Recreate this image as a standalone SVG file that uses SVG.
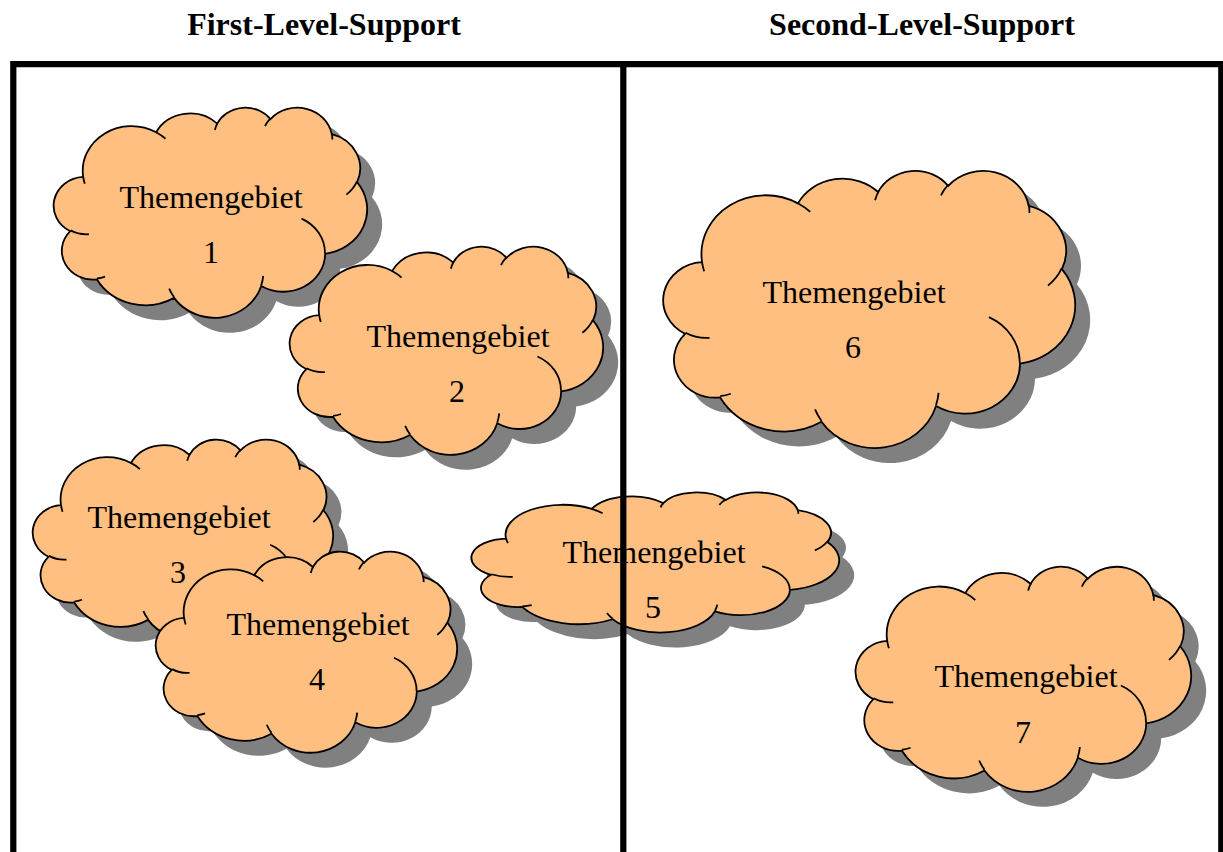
<svg xmlns="http://www.w3.org/2000/svg" xmlns:xlink="http://www.w3.org/1999/xlink" width="1223" height="852" viewBox="0 0 1223 852">
<style>
.shadow{fill:#808080;stroke:none}
.body{fill:#FFBF80;stroke:#000;stroke-width:1.8}
.inner{fill:none;stroke:#000;stroke-width:1.8}
.lbl{font-family:"Liberation Serif","Times New Roman",serif;font-size:32px;fill:#000;text-anchor:middle}
.title{font-family:"Liberation Serif","Times New Roman",serif;font-size:32px;font-weight:bold;fill:#000;text-anchor:middle}
.frame{fill:none;stroke:#000;stroke-width:6.2;stroke-linejoin:miter}
</style>
<defs>
<path id="cloud" vector-effect="non-scaling-stroke" d="M9.03,33.26 A15.63,21.27 0 0 1 32.42,12.04 A12.35,16.82 0 0 1 51.99,7.95 A10.10,13.76 0 0 1 69.07,5.74 A11.24,15.27 0 0 1 88.71,12.91 A12.35,16.84 0 0 1 96.81,35.79 A15.68,21.34 0 0 1 86.59,69.91 A13.39,18.21 0 0 1 66.11,85.22 A15.63,21.33 0 0 1 38.16,90.90 A17.87,24.41 0 0 1 13.45,82.11 A10.09,13.70 0 0 1 4.90,59.15 A10.06,13.76 0 0 1 9.03,33.26 Z"/>
<path id="cloudIn" vector-effect="non-scaling-stroke" d="M10.86,60.59 A10.06,13.76 0 0 1 5.00,58.75 M16.04,80.78 A10.09,13.70 0 0 1 13.47,81.67 M38.14,90.49 A15.63,21.33 0 0 1 36.59,86.45 M66.73,80.44 A15.63,21.33 0 0 1 66.11,84.86 M79.00,53.13 A13.39,18.21 0 0 1 86.53,69.65 M96.75,35.54 A12.35,16.84 0 0 1 93.40,41.74 M88.71,12.56 A11.24,15.27 0 0 1 88.89,15.49 M67.31,9.15 A11.24,15.27 0 0 1 69.03,5.42 M51.25,10.93 A10.10,13.76 0 0 1 52.08,7.71 M32.41,12.02 A15.63,21.27 0 0 1 35.42,15.14 M9.55,36.55 A15.63,21.27 0 0 1 9.03,33.27"/>
</defs>
<text class="title" x="324" y="35">First-Level-Support</text>
<text class="title" x="922" y="35">Second-Level-Support</text>
<g id="node1">
<use href="#cloud" xlink:href="#cloud" class="shadow" transform="translate(70,122) scale(3.12,2.10)"/>
<g transform="translate(55,107) scale(3.12,2.10)"><use href="#cloud" xlink:href="#cloud" class="body"/><use href="#cloudIn" xlink:href="#cloudIn" class="inner"/></g>
<text class="lbl" x="211" y="208">Themengebiet</text><text class="lbl" x="211" y="263">1</text>
</g>
<g id="node2">
<use href="#cloud" xlink:href="#cloud" class="shadow" transform="translate(306,261) scale(3.12,2.08)"/>
<g transform="translate(291,246) scale(3.12,2.08)"><use href="#cloud" xlink:href="#cloud" class="body"/><use href="#cloudIn" xlink:href="#cloudIn" class="inner"/></g>
<text class="lbl" x="458" y="347">Themengebiet</text><text class="lbl" x="457" y="402">2</text>
</g>
<g id="node3">
<use href="#cloud" xlink:href="#cloud" class="shadow" transform="translate(49,454) scale(2.99,1.99)"/>
<g transform="translate(34,439) scale(2.99,1.99)"><use href="#cloud" xlink:href="#cloud" class="body"/><use href="#cloudIn" xlink:href="#cloudIn" class="inner"/></g>
<text class="lbl" x="179" y="528">Themengebiet</text><text class="lbl" x="178" y="583">3</text>
</g>
<g id="node4">
<use href="#cloud" xlink:href="#cloud" class="shadow" transform="translate(172,566) scale(3.00,2.01)"/>
<g transform="translate(157,551) scale(3.00,2.01)"><use href="#cloud" xlink:href="#cloud" class="body"/><use href="#cloudIn" xlink:href="#cloudIn" class="inner"/></g>
<text class="lbl" x="318" y="635">Themengebiet</text><text class="lbl" x="317" y="690">4</text>
</g>
<g id="node5">
<use href="#cloud" xlink:href="#cloud" class="shadow" transform="translate(488,507) scale(3.66,1.40)"/>
<g transform="translate(473,492) scale(3.66,1.40)"><use href="#cloud" xlink:href="#cloud" class="body"/><use href="#cloudIn" xlink:href="#cloudIn" class="inner"/></g>
<text class="lbl" x="654" y="563">Themengebiet</text><text class="lbl" x="653" y="618">5</text>
</g>
<g id="node6">
<use href="#cloud" xlink:href="#cloud" class="shadow" transform="translate(680,185) scale(4.10,2.77)"/>
<g transform="translate(665,170) scale(4.10,2.77)"><use href="#cloud" xlink:href="#cloud" class="body"/><use href="#cloudIn" xlink:href="#cloudIn" class="inner"/></g>
<text class="lbl" x="854" y="303">Themengebiet</text><text class="lbl" x="853" y="358">6</text>
</g>
<g id="node7">
<use href="#cloud" xlink:href="#cloud" class="shadow" transform="translate(872,581) scale(3.34,2.25)"/>
<g transform="translate(857,566) scale(3.34,2.25)"><use href="#cloud" xlink:href="#cloud" class="body"/><use href="#cloudIn" xlink:href="#cloudIn" class="inner"/></g>
<text class="lbl" x="1026" y="687">Themengebiet</text><text class="lbl" x="1023" y="743">7</text>
</g>
<g id="frame">
<path class="frame" d="M13.3,860 V64.2 H1221.3 V860"/>
<path class="frame" d="M623.3,64.2 V860"/>
</g>
</svg>
